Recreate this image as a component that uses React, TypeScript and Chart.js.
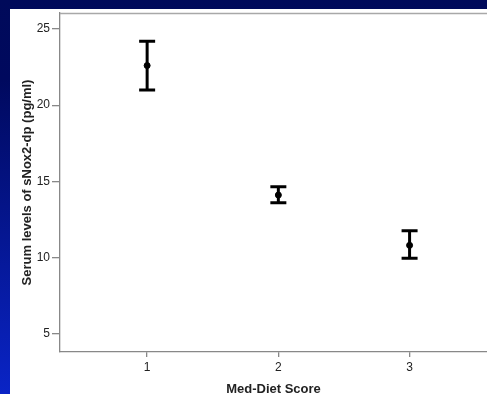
import React, { useEffect, useRef } from "react";
import { Chart, registerables } from "chart.js";

Chart.register(...registerables);

const categories = [1, 2, 3];
const means = [22.6, 14.1, 10.8];
const upper = [24.2, 14.65, 11.75];
const lower = [21.0, 13.6, 9.95];
const yTicks = [5, 10, 15, 20, 25];
const xTitle = "Med-Diet Score";
const yTitle = "Serum levels of sNox2-dp (pg/ml)";

const errorBarPlugin = {
  id: "errorBars",
  afterDatasetsDraw(chart: any) {
    const { ctx, chartArea, scales } = chart;
    const xs = scales.x;
    const ys = scales.y;
    ctx.save();
    // top frame line
    ctx.strokeStyle = "#a8a8a8";
    ctx.lineWidth = 1.3;
    ctx.beginPath();
    ctx.moveTo(chartArea.left, chartArea.top + 0.5);
    ctx.lineTo(chartArea.right, chartArea.top + 0.5);
    ctx.stroke();
    ctx.strokeStyle = "#000";
    ctx.lineCap = "butt";
    categories.forEach((c, i) => {
      const x = xs.getPixelForValue(c);
      const yHi = ys.getPixelForValue(upper[i]);
      const yLo = ys.getPixelForValue(lower[i]);
      ctx.lineWidth = 3;
      ctx.beginPath();
      ctx.moveTo(x, yHi);
      ctx.lineTo(x, yLo);
      ctx.stroke();
      ctx.lineWidth = 3;
      ctx.beginPath();
      ctx.moveTo(x - 8, yHi);
      ctx.lineTo(x + 8, yHi);
      ctx.moveTo(x - 8, yLo);
      ctx.lineTo(x + 8, yLo);
      ctx.stroke();
    });
    ctx.restore();
  },
};

export default function App() {
  const ref = useRef<HTMLCanvasElement>(null);
  useEffect(() => {
    if (!ref.current) return;
    const font = "Arial, 'Liberation Sans', sans-serif";
    const chart = new Chart(ref.current, {
      type: "scatter",
      data: {
        datasets: [
          {
            data: categories.map((c, i) => ({ x: c, y: means[i] })),
            pointRadius: 3,
            pointBackgroundColor: "#000",
            pointBorderColor: "#000",
            showLine: false,
          },
        ],
      },
      options: {
        animation: false,
        responsive: false,
        maintainAspectRatio: false,
        layout: { autoPadding: false, padding: { top: 4, right: 0, left: 0, bottom: 0 } },
        plugins: { legend: { display: false }, tooltip: { enabled: false } },
        scales: {
          x: {
            type: "linear",
            min: 0.336,
            max: 3.59,
            afterBuildTicks: (s: any) => {
              s.ticks = categories.map((v) => ({ value: v }));
            },
            afterFit: (s: any) => {
              s.height = 42;
              s.paddingLeft = 0;
              s.paddingRight = 0;
            },
            ticks: {
              color: "#222",
              font: { family: font, size: 12 },
              padding: 3,
              maxRotation: 0,
              callback: (v: any) => String(v),
            },
            grid: {
              drawOnChartArea: false,
              drawTicks: true,
              tickLength: 5,
              color: "#888",
              lineWidth: 1.3,
            },
            border: { color: "#888", width: 1.3 },
            title: {
              display: true,
              text: xTitle,
              color: "#222",
              font: { family: font, size: 13, weight: "bold", lineHeight: 0.75 },
              padding: { top: 0, bottom: 0 },
            },
          },
          y: {
            type: "linear",
            min: 3.8,
            max: 26.05,
            afterBuildTicks: (s: any) => {
              s.ticks = yTicks.map((v) => ({ value: v }));
            },
            afterFit: (s: any) => {
              s.width = 50;
              s.paddingTop = 0;
              s.paddingBottom = 0;
            },
            ticks: {
              color: "#222",
              font: { family: font, size: 12 },
              padding: 2,
              callback: (v: any) => String(v),
            },
            grid: {
              drawOnChartArea: false,
              drawTicks: true,
              tickLength: 8,
              color: "#888",
              lineWidth: 1.3,
            },
            border: { color: "#888", width: 1.3 },
            title: {
              display: true,
              text: yTitle,
              color: "#222",
              font: { family: font, size: 13, weight: "bold", lineHeight: 1 },
              padding: { top: 10.5, bottom: 0 },
            },
          },
        },
      },
      plugins: [errorBarPlugin],
    } as any);
    return () => chart.destroy();
  }, []);

  return (
    <div
      style={{
        position: "fixed",
        left: 0,
        top: 0,
        width: 487,
        height: 394,
        overflow: "hidden",
        background: "linear-gradient(to bottom, #000a5a 0%, #00095e 20%, #0a24c6 100%)",
      }}
    >
      <div
        style={{
          position: "absolute",
          left: 10,
          top: 9,
          width: 477,
          height: 385,
          background: "#fff",
        }}
      >
        <canvas ref={ref} width={477} height={385} style={{ display: "block" }} />
      </div>
    </div>
  );
}
